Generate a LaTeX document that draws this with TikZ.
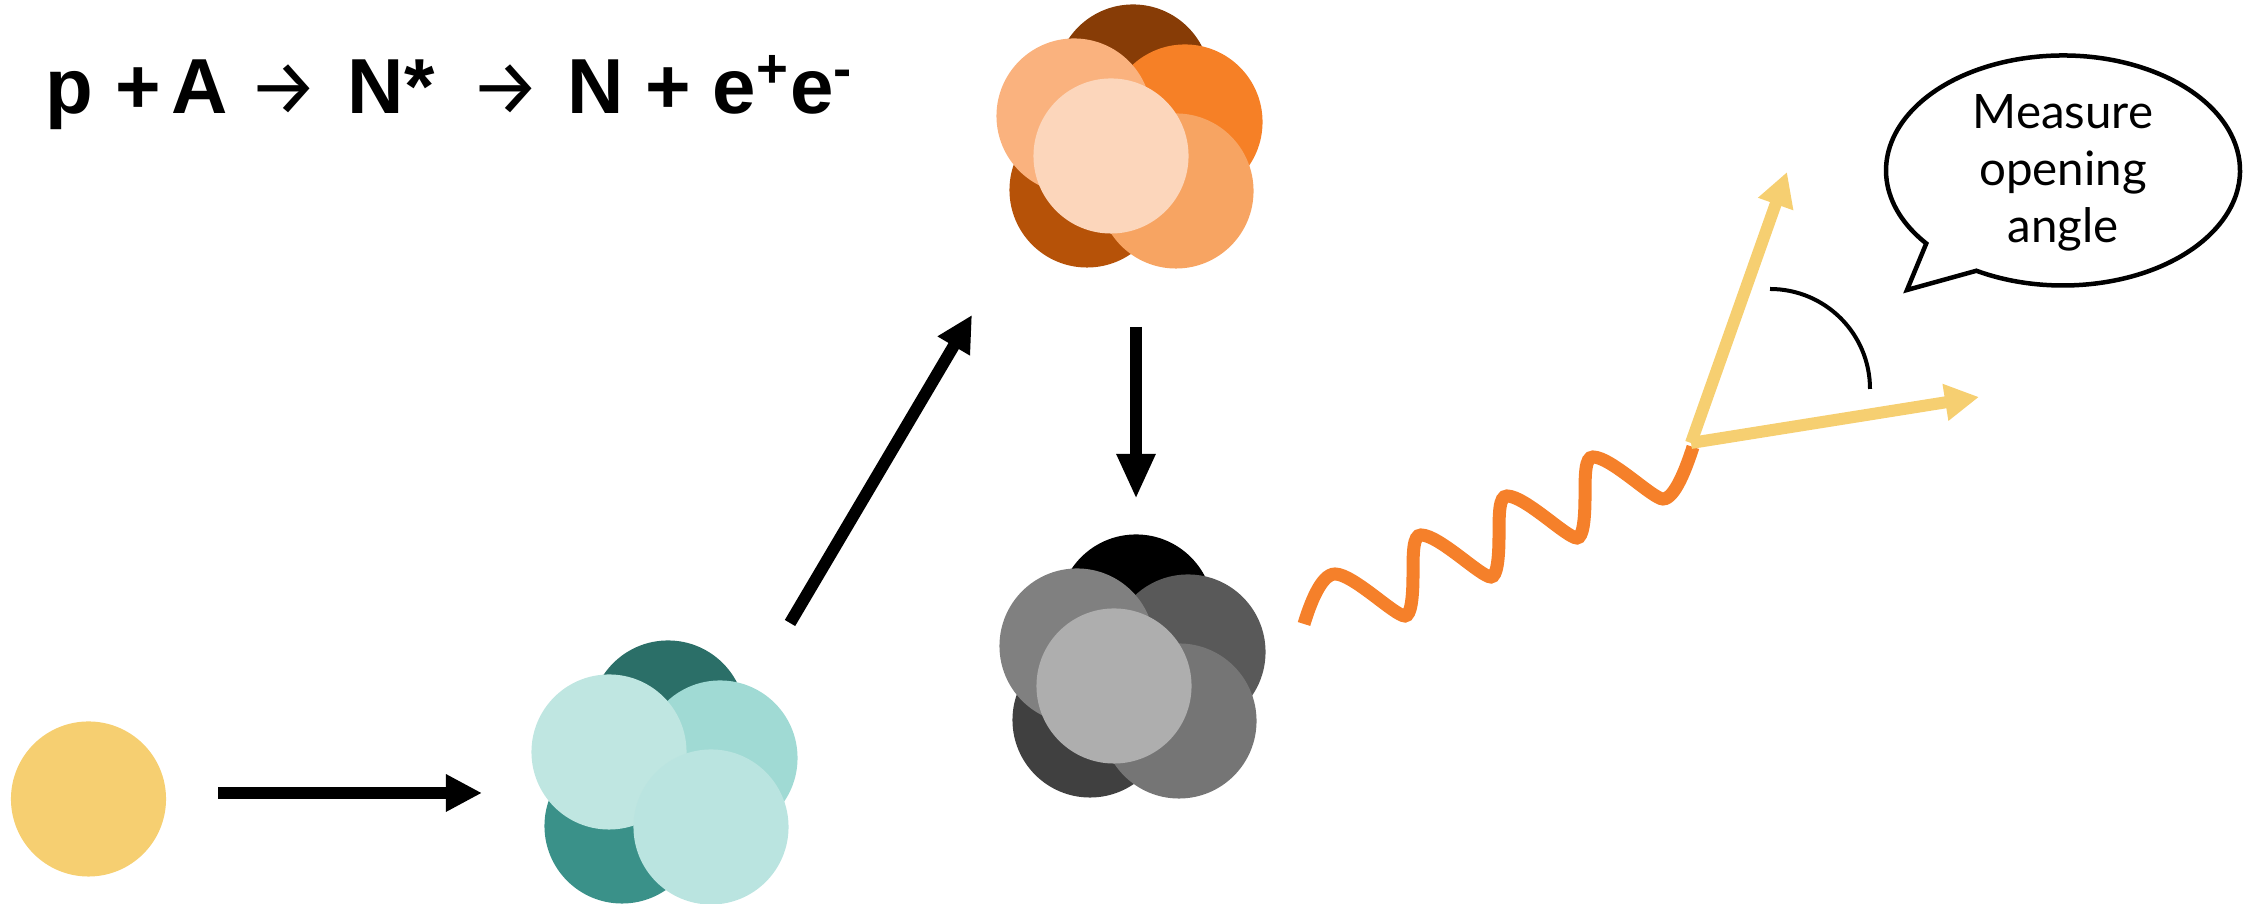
\documentclass[tikz,border=0pt]{standalone}
\usepackage{fontspec}
\newfontfamily\eqfont{Liberation Sans}
\newfontfamily\arrowfont{Fira Sans}
\newfontfamily\notefont{Lato}
\usetikzlibrary{arrows.meta,calc}

\definecolor{protonyellow}{HTML}{F6CF71}
\definecolor{photonorange}{HTML}{F5802A}
% target nucleus (teal)
\definecolor{tealA}{HTML}{2B6F68}
\definecolor{tealB}{HTML}{3A9189}
\definecolor{tealC}{HTML}{A0DAD4}
\definecolor{tealD}{HTML}{BFE6E1}
\definecolor{tealE}{HTML}{BAE4E0}
% excited nucleus (orange)
\definecolor{hotA}{HTML}{873C06}
\definecolor{hotB}{HTML}{B65208}
\definecolor{hotC}{HTML}{F68026}
\definecolor{hotD}{HTML}{FAB27E}
\definecolor{hotE}{HTML}{F7A462}
\definecolor{hotF}{HTML}{FCD6BB}
% ground state nucleus (grey)
\definecolor{coldA}{HTML}{000000}
\definecolor{coldB}{HTML}{404040}
\definecolor{coldC}{HTML}{595959}
\definecolor{coldD}{HTML}{808080}
\definecolor{coldE}{HTML}{757575}
\definecolor{coldF}{HTML}{AEAEAE}

\tikzset{
  ball/.style={circle, minimum size=1.55cm, inner sep=0pt, outer sep=0pt},
  pics/nucleus/.style n args={5}{code={
    \node[ball, fill=#1] (-n1) at (22,74) {};
    \node[ball, fill=#2] (-n2) at (-24,-34) {};
    \node[ball, fill=#3] (-n3) at (74,34) {};
    \node[ball, fill=#4] (-n4) at (-37,40) {};
    \node[ball, fill=#5] (-n5) at (65,-35) {};
  }},
  flow/.style={line width=0.12cm, -{Triangle[length=0.36cm,width=0.35cm]}},
  ray/.style={line width=0.12cm, draw=protonyellow, -{Triangle[length=0.34cm,width=0.35cm]}},
  wave/.style={line width=0.13cm, draw=photonorange},
  eqtext/.style={font=\eqfont\bfseries\fontsize{22.2}{26}\selectfont, inner sep=0pt, anchor=base west},
  eqarrow/.style={font=\arrowfont\fontsize{22.2}{26}\selectfont, inner sep=0pt},
  note/.style={font=\notefont\fontsize{13.5}{16.2}\selectfont, align=center, inner sep=0pt},
}

\begin{document}
\begin{tikzpicture}[x=0.01cm,y=0.01cm]
  \useasboundingbox (0,0) rectangle (2257,904);

  % reaction line
  \node[eqtext] (eq1) at (45,790) {p +};
  \node[eqtext] (eq2) at (171,790) {A};
  \node[eqarrow] (eq3) at (284,814) {→};
  \node[eqtext] (eq4) at (347,790) {N*};
  \node[eqarrow] (eq5) at (505.5,814) {→};
  \node[eqtext] (eq6) at (567,790) {N + e\textsuperscript{+}e\textsuperscript{-}};

  % proton, target, excited and final nucleus
  \node[ball, fill=protonyellow] (proton) at (88.5,105) {};
  \pic (target) at (646,112) {nucleus={tealA}{tealB}{tealC}{tealD}{tealE}};
  \pic (excited) at (1111,748) {nucleus={hotA}{hotB}{hotC}{hotD}{hotE}};
  \node[ball, fill=hotF] (excited-n6) at (1111,748) {};
  \pic (ground) at (1114,218) {nucleus={coldA}{coldB}{coldC}{coldD}{coldE}};
  \node[ball, fill=coldF] (ground-n6) at (1114,218) {};

  \coordinate (beam0) at (218,111);
  \coordinate (beam1) at (482,111);
  \coordinate (exc0) at (790,281);
  \coordinate (exc1) at (972,589);
  \coordinate (dec0) at (1136,577);
  \coordinate (dec1) at (1136,405);
  \draw[flow] (beam0) -- (beam1);
  \draw[flow] (exc0) -- (exc1);
  \draw[flow, -{Triangle[length=0.45cm,width=0.36cm]}] (dec0) -- (dec1);

  % virtual photon
  \coordinate (gamma0) at (1304,280);
  \draw[wave] (gamma0) to[out=73,in=180,out distance=0.2cm,in distance=0.14cm] ++(31,50)
    \foreach \k in {1,2,3}{
      to[out=0,in=180,out distance=0.18cm,in distance=0.1cm] ++(70,-42)
      to[out=0,in=-90,out distance=0.06cm,in distance=0.22cm] ++(8,41)
      to[out=90,in=180,out distance=0.22cm,in distance=0.08cm] ++(8,40)
    }
    to[out=0,in=180,out distance=0.18cm,in distance=0.1cm] ++(70,-42)
    to[out=0,in=-108,out distance=0.12cm,in distance=0.2cm] ++(30,52);

  % e+ e- pair
  \coordinate (vtx) at (1691,461);
  \coordinate (eplus) at (1787,732);
  \coordinate (eminus) at (1979,507);
  \draw[ray] (vtx) -- (eplus);
  \draw[ray] (vtx) -- (eminus);
  \draw[line width=0.04cm] (1770,615) arc[start angle=90,end angle=0,radius=100];

  % speech bubble
  \coordinate (bubblec) at (2063,733.5);
  \coordinate (tail) at (1907,614);
  \draw[line width=0.045cm, fill=white] (tail)
    -- ([shift={(240.7:177 and 115)}]bubblec)
    arc[start angle=240.7,end angle=579.4,x radius=177,y radius=115] -- cycle;
  \node[note] (msg) at (2063,731) {Measure\\opening\\angle};
\end{tikzpicture}
\end{document}
